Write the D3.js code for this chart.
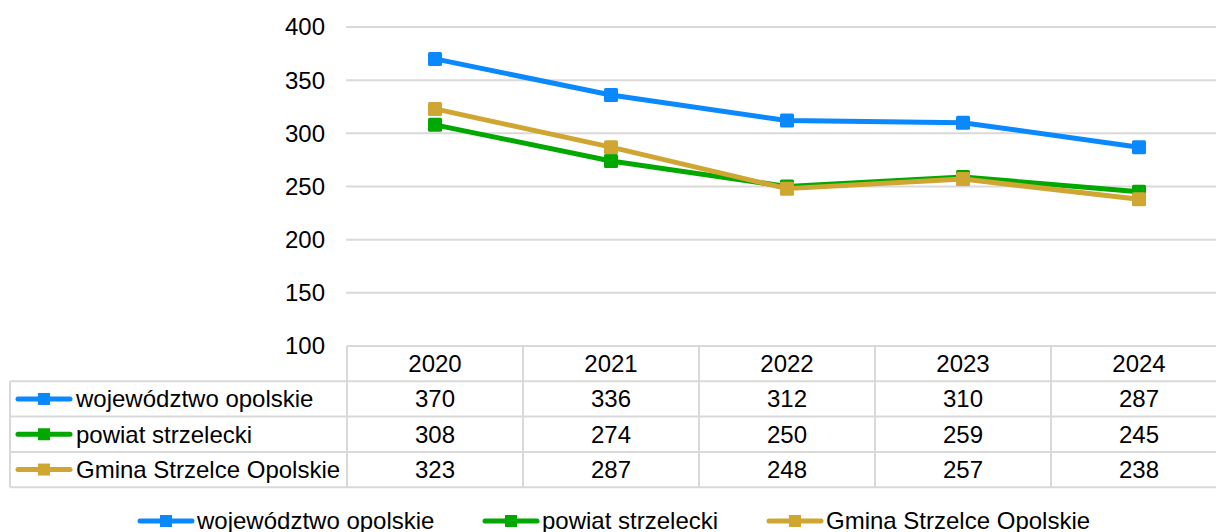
<!DOCTYPE html>
<html>
<head>
<meta charset="utf-8">
<script src="https://cdn.jsdelivr.net/npm/d3@7"></script>
<style>
  body { margin: 0; background: #fff; }
  svg { display: block; font-family: "Liberation Sans", Arial, sans-serif; }
  .grid line { stroke: #d9d9d9; stroke-width: 2; }
  .tbl line { stroke: #d9d9d9; stroke-width: 2; }
  text { fill: #000; }
</style>
</head>
<body>
<svg id="chart" width="1216" height="532"></svg>
<script>
// data
const years = ['2020', '2021', '2022', '2023', '2024'];
const seriesNames = ['województwo opolskie', 'powiat strzelecki', 'Gmina Strzelce Opolskie'];
const wojewodztwo = [370, 336, 312, 310, 287];
const powiat = [308, 274, 250, 259, 245];
const gmina = [323, 287, 248, 257, 238];
const yTicks = [100, 150, 200, 250, 300, 350, 400];
const colors = ['#0a88fd', '#00a800', '#cfa632'];

const series = [wojewodztwo, powiat, gmina].map((values, i) => ({
  name: seriesNames[i],
  color: colors[i],
  values: values
}));

const W = 1216, H = 532;
const PLOT = { LEFT: 347, TOP: 27, BOTTOM: 346 };
const COLW = 176, ROWH = 35.3;
const FONT = 24;

const svg = d3.select('#chart');

const x = d3.scaleBand()
  .domain(years)
  .range([PLOT.LEFT, PLOT.LEFT + COLW * years.length]);
const y = d3.scaleLinear()
  .domain([100, 400])
  .range([PLOT.BOTTOM, PLOT.TOP]);

// gridlines
svg.append('g').attr('class', 'grid')
  .selectAll('line')
  .data(yTicks.slice(1))
  .enter()
  .append('line')
  .attr('x1', PLOT.LEFT - 1)
  .attr('x2', W)
  .attr('y1', d => y(d))
  .attr('y2', d => y(d));

// y axis labels
svg.append('g')
  .selectAll('text')
  .data(yTicks)
  .enter()
  .append('text')
  .attr('x', 325)
  .attr('y', d => y(d))
  .attr('dy', '0.35em')
  .attr('text-anchor', 'end')
  .style('font-size', FONT + 'px')
  .text(d => d);

// data table
const tbl = svg.append('g').attr('class', 'tbl');
const tableBottom = PLOT.BOTTOM + ROWH * 4;
const rowY = i => PLOT.BOTTOM + ROWH * i;

tbl.append('line')
  .attr('x1', PLOT.LEFT).attr('x2', W)
  .attr('y1', PLOT.BOTTOM).attr('y2', PLOT.BOTTOM);
[1, 2, 3, 4].forEach(i => {
  tbl.append('line')
    .attr('x1', 10).attr('x2', W)
    .attr('y1', rowY(i)).attr('y2', rowY(i));
});
tbl.append('line')
  .attr('x1', 10).attr('x2', 10)
  .attr('y1', rowY(1)).attr('y2', tableBottom);
tbl.selectAll('.vcol')
  .data(years)
  .enter()
  .append('line')
  .attr('class', 'vcol')
  .attr('x1', d => x(d)).attr('x2', d => x(d))
  .attr('y1', PLOT.BOTTOM).attr('y2', tableBottom);

// header row
svg.append('g')
  .selectAll('text')
  .data(years)
  .enter()
  .append('text')
  .attr('x', d => x(d) + x.bandwidth() / 2)
  .attr('y', rowY(0) + ROWH / 2)
  .attr('dy', '0.35em')
  .attr('text-anchor', 'middle')
  .style('font-size', FONT + 'px')
  .text(d => d);

// legend key (line + square)
function drawKey(g, cx, cy, color) {
  g.append('line')
    .attr('x1', cx - 26).attr('x2', cx + 26)
    .attr('y1', cy).attr('y2', cy)
    .attr('stroke', color)
    .attr('stroke-width', 5)
    .attr('stroke-linecap', 'round');
  g.append('rect')
    .attr('x', cx - 6).attr('y', cy - 6)
    .attr('width', 12).attr('height', 12)
    .attr('fill', color);
}

// table body rows
series.forEach((s, i) => {
  const cy = rowY(i + 1) + ROWH / 2;
  const g = svg.append('g');
  drawKey(g, 44, cy, s.color);
  g.append('text')
    .attr('x', 76)
    .attr('y', cy)
    .attr('dy', '0.35em')
    .style('font-size', FONT + 'px')
    .text(s.name);
  g.selectAll('.val')
    .data(s.values)
    .enter()
    .append('text')
    .attr('class', 'val')
    .attr('x', (d, j) => x(years[j]) + x.bandwidth() / 2)
    .attr('y', cy)
    .attr('dy', '0.35em')
    .attr('text-anchor', 'middle')
    .style('font-size', FONT + 'px')
    .text(d => d);
});

// lines and markers
const line = d3.line()
  .x((d, j) => x(years[j]) + x.bandwidth() / 2)
  .y(d => y(d));

series.forEach(s => {
  const g = svg.append('g');
  g.append('path')
    .datum(s.values)
    .attr('d', line)
    .attr('fill', 'none')
    .attr('stroke', s.color)
    .attr('stroke-width', 5)
    .attr('stroke-linejoin', 'round');
  g.selectAll('rect')
    .data(s.values)
    .enter()
    .append('rect')
    .attr('x', (d, j) => x(years[j]) + x.bandwidth() / 2 - 7)
    .attr('y', d => y(d) - 7)
    .attr('width', 14)
    .attr('height', 14)
    .attr('rx', 1.5)
    .attr('fill', s.color);
});

// bottom legend (cut by the frame, as in the reference)
const legendX = [166, 511, 795];
series.forEach((s, i) => {
  const g = svg.append('g');
  const cy = 521;
  drawKey(g, legendX[i], cy, s.color);
  g.append('text')
    .attr('x', legendX[i] + 31)
    .attr('y', cy)
    .attr('dy', '0.35em')
    .style('font-size', FONT + 'px')
    .text(s.name);
});
</script>
</body>
</html>
